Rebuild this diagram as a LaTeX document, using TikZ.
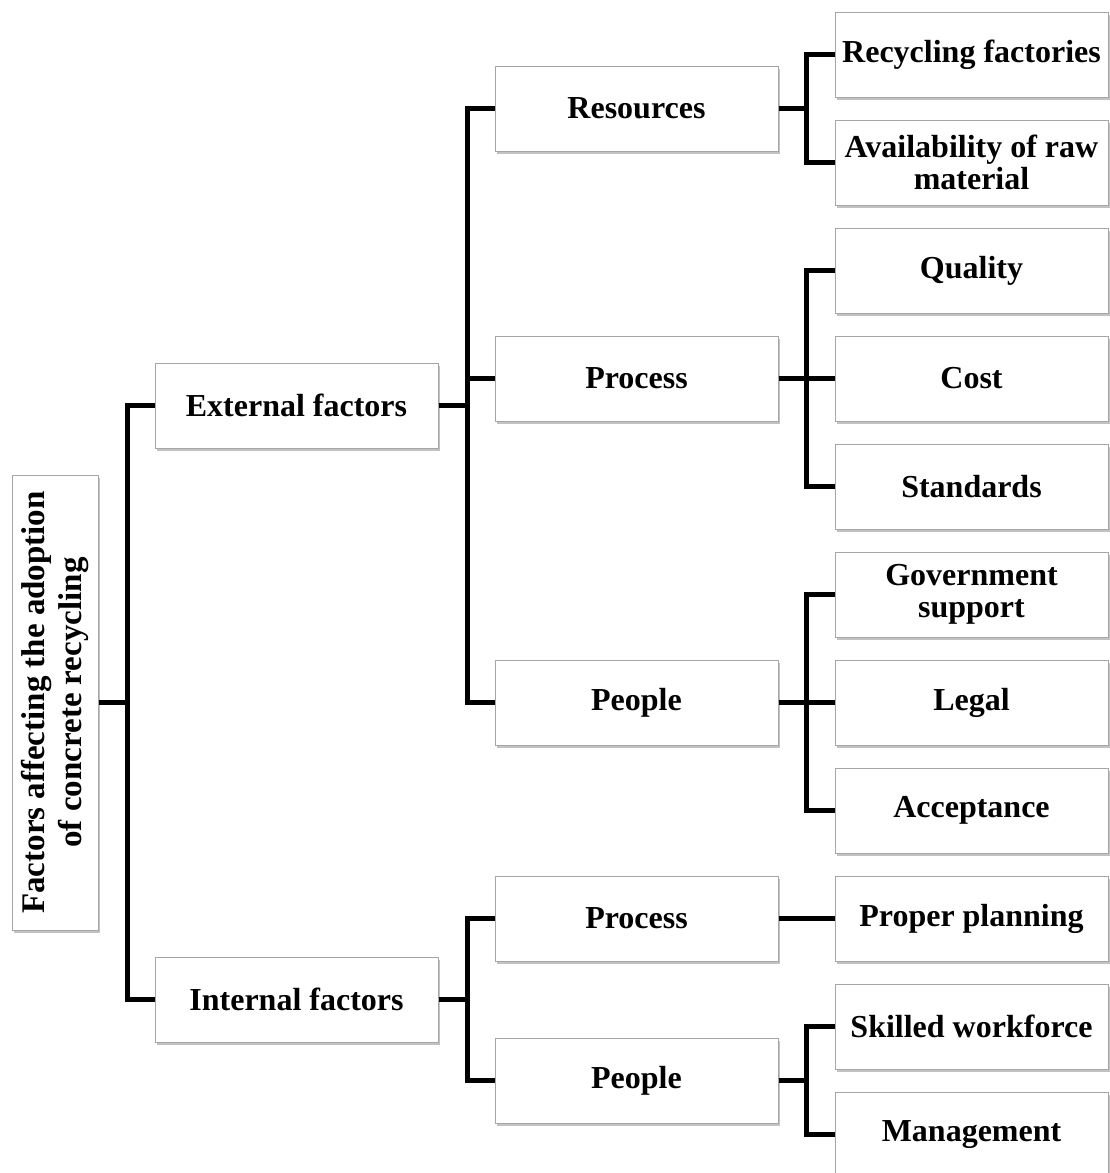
\documentclass[tikz,border=0pt]{standalone}
\usepackage{fontspec}
\setmainfont{Liberation Serif}
\usetikzlibrary{shadows}

\begin{document}
\begin{tikzpicture}[x=1pt,y=-1pt,
  box/.style={draw=gray!70,line width=1pt,fill=white,inner sep=0pt,
    minimum width=283pt,minimum height=85pt,align=center,
    font=\fontsize{32}{32}\selectfont\bfseries,
    drop shadow={shadow xshift=1.5pt,shadow yshift=-3pt,fill=gray!80,opacity=.6}},
  leaf/.style={box,minimum width=273pt},
  link/.style={line width=4.5pt}]
\useasboundingbox (0,0) rectangle (1110,1173);
\clip (0,0) rectangle (1110,1173);
\node[box,rotate=90,minimum width=455pt,minimum height=86pt,
  font=\fontsize{33}{37}\selectfont\bfseries] (root) at (55,702.5)
  {Factors affecting the adoption\\of concrete recycling};
\node[box] (ext) at (296.5,405.5) {External factors};
\node[box] (int) at (296.5,999.5) {Internal factors};
\node[box] (res)   at (636.5,108.5)  {Resources};
\node[box] (proc)  at (636.5,378.5)  {Process};
\node[box] (peop)  at (636.5,702.5)  {People};
\node[box] (iproc) at (636.5,918.5)  {Process};
\node[box] (ipeop) at (636.5,1080.5) {People};
\node[leaf] (rec)    at (971.5,54.5)   {Recycling factories};
\node[leaf] (avail)  at (971.5,162.5)  {Availability of raw\\material};
\node[leaf] (qual)   at (971.5,270.5)  {Quality};
\node[leaf] (cost)   at (971.5,378.5)  {Cost};
\node[leaf] (std)    at (971.5,486.5)  {Standards};
\node[leaf] (gov)    at (971.5,594.5)  {Government\\support};
\node[leaf] (legal)  at (971.5,702.5)  {Legal};
\node[leaf] (accept) at (971.5,810.5)  {Acceptance};
\node[leaf] (plan)   at (971.5,918.5)  {Proper planning};
\node[leaf] (skill)  at (971.5,1026.5) {Skilled workforce};
\node[leaf] (mgmt)   at (971.5,1134.5) {Management};
\draw[link] (root.south) -- ++(29,0) |- (ext.west);
\draw[link] (root.south) -- ++(29,0) |- (int.west);
\draw[link] (ext.east) -- ++(29,0) |- (res.west);
\draw[link] (ext.east) -- ++(29,0) |- (proc.west);
\draw[link] (ext.east) -- ++(29,0) |- (peop.west);
\draw[link] (int.east) -- ++(29,0) |- (iproc.west);
\draw[link] (int.east) -- ++(29,0) |- (ipeop.west);
\draw[link] (res.east) -- ++(28,0) |- (rec.west);
\draw[link] (res.east) -- ++(28,0) |- (avail.west);
\draw[link] (proc.east) -- ++(28,0) |- (qual.west);
\draw[link] (proc.east) -- (cost.west);
\draw[link] (proc.east) -- ++(28,0) |- (std.west);
\draw[link] (peop.east) -- ++(28,0) |- (gov.west);
\draw[link] (peop.east) -- (legal.west);
\draw[link] (peop.east) -- ++(28,0) |- (accept.west);
\draw[link] (iproc.east) -- (plan.west);
\draw[link] (ipeop.east) -- ++(28,0) |- (skill.west);
\draw[link] (ipeop.east) -- ++(28,0) |- (mgmt.west);
\end{tikzpicture}
\end{document}
